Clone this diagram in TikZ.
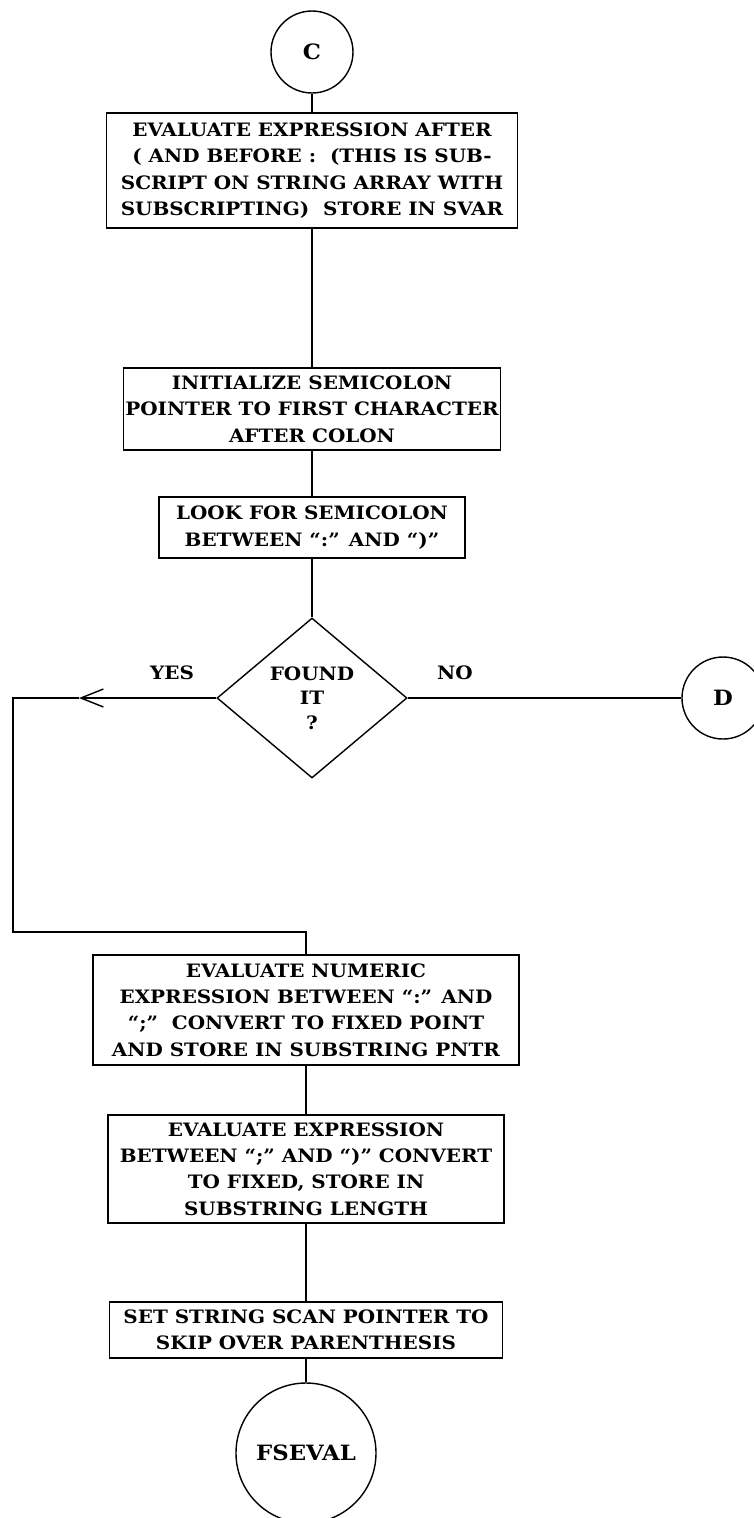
\documentclass[tikz,border=0pt]{standalone}
\usepackage{fontspec}
\setmainfont[FakeStretch=1.08]{DejaVu Serif}
\usetikzlibrary{arrows.meta,shapes.geometric}

\begin{document}
\begin{tikzpicture}[
  proc/.style={draw, thick, rectangle, inner sep=2pt, align=center,
    font=\fontsize{10.5}{15}\selectfont\bfseries},
  conn/.style={thick},
  arr/.style={-{Straight Barb[length=0.45cm, width=0.36cm]}, thick},
  term/.style={draw, thick, circle, inner sep=0pt,
    font=\fontsize{12}{15}\selectfont\bfseries},
  dec/.style={draw, thick, diamond, inner sep=0pt, align=center,
    minimum width=3.8cm, minimum height=3.2cm,
    font=\fontsize{10.5}{14}\selectfont\bfseries},
  lbl/.style={font=\fontsize{10.5}{15}\selectfont\bfseries}
]
  \useasboundingbox (0,0) rectangle (15.06,-30.36);

  % Connectors in and out
  \node[term, minimum size=1.64cm] (c) at (6.24,-1.04) {C};
  \node[term, minimum size=1.64cm] (d) at (14.46,-13.96) {D};
  \node[term, minimum size=2.8cm] (fseval) at (6.12,-29.06) {FSEVAL};

  % Process boxes
  \node[proc, minimum width=8.22cm, minimum height=2.3cm] (svar) at (6.24,-3.41)
    {EVALUATE EXPRESSION AFTER\\( AND BEFORE :\ \ (THIS IS SUB-\\SCRIPT ON STRING ARRAY WITH\\SUBSCRIPTING)\ \ STORE IN SVAR};
  \node[proc, inner xsep=1pt, minimum width=7.14cm, minimum height=1.64cm] (init) at (6.24,-8.18)
    {INITIALIZE SEMICOLON\\POINTER TO FIRST CHARACTER\\AFTER COLON};
  \node[proc, minimum width=6.12cm, minimum height=1.22cm] (look) at (6.24,-10.55)
    {LOOK FOR SEMICOLON\\BETWEEN “:” AND “)”};
  \node[dec] (found) at (6.24,-13.96) {FOUND\\IT\\?};
  \node[proc, minimum width=8.52cm, minimum height=2.2cm] (pntr) at (6.12,-20.2)
    {EVALUATE NUMERIC\\EXPRESSION BETWEEN “:” AND\\“;”\ \ CONVERT TO FIXED POINT\\AND STORE IN SUBSTRING PNTR};
  \node[proc, minimum width=7.92cm, minimum height=2.16cm] (len) at (6.12,-23.38)
    {EVALUATE EXPRESSION\\BETWEEN “;” AND “)” CONVERT\\TO FIXED, STORE IN\\SUBSTRING LENGTH};
  \node[proc, minimum width=7.86cm, minimum height=1.12cm] (scan) at (6.12,-26.6)
    {SET STRING SCAN POINTER TO\\SKIP OVER PARENTHESIS};

  % Branch labels
  \node[lbl] (yes) at (3.44,-13.46) {YES};
  \node[lbl] (no) at (9.1,-13.46) {NO};

  % Flow lines
  \draw[conn] (c) -- (svar);
  \draw[conn] (svar) -- (init);
  \draw[conn] (init) -- (look);
  \draw[conn] (look) -- (found);
  \draw[conn] (found) -- (d);
  \draw[conn] (pntr) -- (len);
  \draw[conn] (len) -- (scan);
  \draw[conn] (scan) -- (fseval);

  % Loop back on YES
  \coordinate (tip) at (1.58,-13.96);
  \coordinate (lp1) at (0.26,-13.96);
  \coordinate (lp2) at (0.26,-18.64);
  \draw[arr] (found.west) -- (tip);
  \draw[conn] (tip) -- (lp1) -- (lp2) -| (pntr.north);
\end{tikzpicture}
\end{document}
